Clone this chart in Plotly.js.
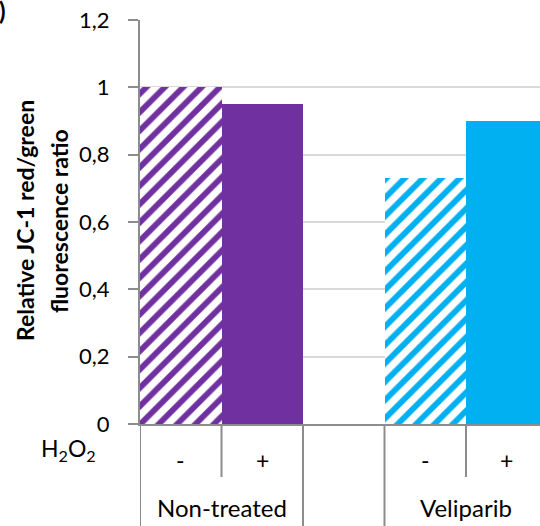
<!DOCTYPE html>
<html>
<head>
<meta charset="utf-8">
<script src="https://cdn.plot.ly/plotly-3.0.1.min.js"></script>
<style>html,body{margin:0;padding:0;background:#fff;}#chart{width:540px;height:526px;}</style>
</head>
<body>
<div id="chart"></div>
<script>
// Data
const groups = ["Non-treated", "Veliparib"];
const h2o2Labels = ["-", "+"];
const minusValues = [1.0, 0.73];   // H2O2 "-" (hatched)
const plusValues = [0.95, 0.90];   // H2O2 "+" (solid)
const groupColors = ["#7030A0", "#00B0F0"];
const yTicks = [0, 0.2, 0.4, 0.6, 0.8, 1.0, 1.2];

// Slot positions: group g occupies slots 3g and 3g+1 (gap slot between groups)
const minusX = groups.map((g, i) => 3 * i);
const plusX = groups.map((g, i) => 3 * i + 1);

const axisGray = "#8c8c8c";
const font = "Lato, 'Open Sans', sans-serif";

const traces = [
  {
    type: "bar", x: minusX, y: minusValues, width: 1,
    marker: {
      color: "#ffffff",
      line: {width: 0},
      pattern: {shape: "/", fgcolor: groupColors, bgcolor: "#ffffff", size: 13, solidity: 0.45, fgopacity: 1, fillmode: "overlay"}
    },
    hoverinfo: "skip", showlegend: false
  },
  {
    type: "bar", x: plusX, y: plusValues, width: 1,
    marker: {color: groupColors, line: {width: 0}},
    hoverinfo: "skip", showlegend: false
  }
];

const shapes = [];
const annotations = [];
// bottom divider lines of the category table
const bottom = -(526 - 424) / 404;
const mid = -(477 - 424) / 404;
groups.forEach((g, i) => {
  const left = 3 * i - 0.5;
  shapes.push({type: "line", xref: "x", yref: "paper", x0: left, x1: left, y0: 0, y1: bottom, line: {color: axisGray, width: 2}});
  shapes.push({type: "line", xref: "x", yref: "paper", x0: left + 1, x1: left + 1, y0: 0, y1: mid, line: {color: axisGray, width: 2}});
  shapes.push({type: "line", xref: "x", yref: "paper", x0: left + 2, x1: left + 2, y0: 0, y1: bottom, line: {color: axisGray, width: 2}});
  h2o2Labels.forEach((lab, j) => {
    annotations.push({xref: "x", yref: "paper", x: 3 * i + j, y: -(460 - 424) / 404, text: lab, showarrow: false,
      font: {family: font, size: 23, color: "#000"}, xanchor: "center", yanchor: "middle"});
  });
  annotations.push({xref: "x", yref: "paper", x: 3 * i + 0.5, y: -(507 - 424) / 404, text: g, showarrow: false,
    font: {family: font, size: 24, color: "#000"}, xanchor: "center", yanchor: "middle"});
});

annotations.push({xref: "paper", yref: "paper", x: (68 - 140) / 400, y: -(449 - 424) / 404,
  text: "H<sub>2</sub>O<sub>2</sub>", showarrow: false, font: {family: font, size: 23, color: "#000"},
  xanchor: "center", yanchor: "middle"});

// y-axis title, two lines
annotations.push({xref: "paper", yref: "paper", x: (25 - 140) / 400, y: (424 - 221) / 404,
  text: "<b>Relative JC-1 red/green</b>", textangle: -90, showarrow: false,
  font: {family: font, size: 23, color: "#000"}, xanchor: "center", yanchor: "middle"});
annotations.push({xref: "paper", yref: "paper", x: (59 - 140) / 400, y: (424 - 221) / 404,
  text: "<b>fluorescence ratio</b>", textangle: -90, showarrow: false,
  font: {family: font, size: 23, color: "#000"}, xanchor: "center", yanchor: "middle"});

// panel letter, clipped at the left edge
annotations.push({xref: "paper", yref: "paper", x: (8 - 140) / 400, y: (424 + 6) / 404,
  text: "<b>b)</b>", showarrow: false, font: {family: font, size: 24, color: "#000"},
  xanchor: "right", yanchor: "top"});

const layout = {
  width: 540, height: 526,
  margin: {l: 140, r: 0, t: 20, b: 102, pad: 0},
  paper_bgcolor: "#fff", plot_bgcolor: "#fff",
  separators: ", ",
  barmode: "overlay", bargap: 0,
  showlegend: false,
  xaxis: {
    range: [-0.5, -0.5 + 400 / 81.5], showticklabels: false, ticks: "",
    showgrid: false, zeroline: false, showline: true, linecolor: axisGray, linewidth: 2,
    fixedrange: true
  },
  yaxis: {
    range: [0, 1.2], tickvals: yTicks, ticks: "outside", ticklen: 10, tickwidth: 2, tickcolor: axisGray,
    showline: true, linecolor: axisGray, linewidth: 2,
    showgrid: true, gridcolor: "#d9d9d9", gridwidth: 2, zeroline: false,
    tickfont: {family: font, size: 22, color: "#000"}, ticklabelstandoff: 14,
    fixedrange: true
  },
  shapes: shapes,
  annotations: annotations
};

Plotly.newPlot("chart", traces, layout, {staticPlot: true, displayModeBar: false});
</script>
</body>
</html>
